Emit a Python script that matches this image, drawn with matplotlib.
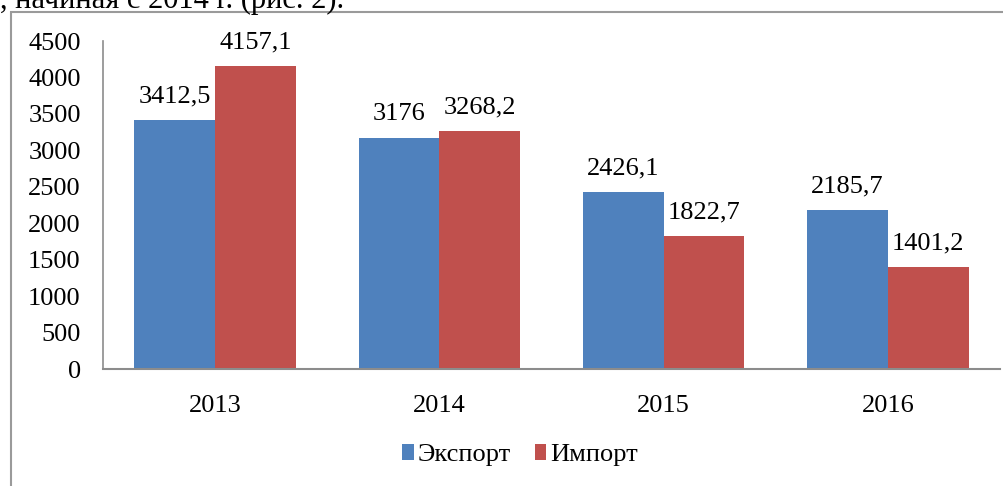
import matplotlib
matplotlib.use('Agg')
import matplotlib.pyplot as plt
import numpy as np
from matplotlib.patches import Rectangle
from matplotlib import font_manager

names = sorted({f.name for f in font_manager.fontManager.ttflist})
serif_name = "Liberation Serif" if "Liberation Serif" in names else "DejaVu Serif"
plt.rcParams['font.family'] = 'serif'
plt.rcParams['font.serif'] = [serif_name, 'DejaVu Serif']

# data
years = ["2013", "2014", "2015", "2016"]
export_vals = [3412.5, 3176, 2426.1, 2185.7]
import_vals = [4157.1, 3268.2, 1822.7, 1401.2]
export_labels = ["3412,5", "3176", "2426,1", "2185,7"]
import_labels = ["4157,1", "3268,2", "1822,7", "1401,2"]
yticks = [0, 500, 1000, 1500, 2000, 2500, 3000, 3500, 4000, 4500]

blue = "#4F81BD"
red = "#C0504D"

fig = plt.figure(figsize=(10.04, 4.86), dpi=100)

# outer frame of the chart (cut by the page edges)
frame = Rectangle((11 / 1004, -0.05), 1.0, (486 - 12) / 486 + 0.05,
                  transform=fig.transFigure, fill=False,
                  edgecolor="#9a9a9a", linewidth=1.5)
fig.add_artist(frame)

# clipped line of body text above the chart
fig.text(0.0, (486 - 8) / 486, ", начиная с 2014 г. (рис. 2).",
         fontsize=22, va="baseline", ha="left")

ax = fig.add_axes([103 / 1004, (486 - 369) / 486, 897 / 1004, 328 / 486])

x = np.arange(len(years))
w = 0.36
b1 = ax.bar(x - w / 2, export_vals, w, color=blue, label="Экспорт")
b2 = ax.bar(x + w / 2, import_vals, w, color=red, label="Импорт")

for rect, lab in zip(b1, export_labels):
    ax.annotate(lab, (rect.get_x() + rect.get_width() / 2, rect.get_height()),
                xytext=(0, 9), textcoords="offset points",
                ha="center", va="bottom", fontsize=19)
for rect, lab in zip(b2, import_labels):
    ax.annotate(lab, (rect.get_x() + rect.get_width() / 2, rect.get_height()),
                xytext=(0, 9), textcoords="offset points",
                ha="center", va="bottom", fontsize=19)

ax.set_xlim(-0.5, len(years) - 0.5)
ax.set_ylim(0, 4500)
ax.set_yticks(yticks)
ax.set_yticklabels([str(v) for v in yticks])
ax.set_xticks(x)
ax.set_xticklabels(years)
ax.tick_params(axis="y", length=0, pad=16, labelsize=19)
ax.tick_params(axis="x", length=0, pad=19, labelsize=19)

for s in ["top", "right"]:
    ax.spines[s].set_visible(False)
ax.spines["left"].set_color("#8c8c8c")
ax.spines["bottom"].set_color("#8c8c8c")
ax.spines["left"].set_linewidth(1.2)
ax.spines["bottom"].set_linewidth(1.5)

fig.legend(handles=[b1, b2], loc="center", bbox_to_anchor=(520 / 1004, (486 - 455) / 486),
           ncol=2, frameon=False, fontsize=19, handlelength=0.45, handleheight=0.6,
           handletextpad=0.15, columnspacing=0.9)

fig.savefig("out.png", dpi=100)
